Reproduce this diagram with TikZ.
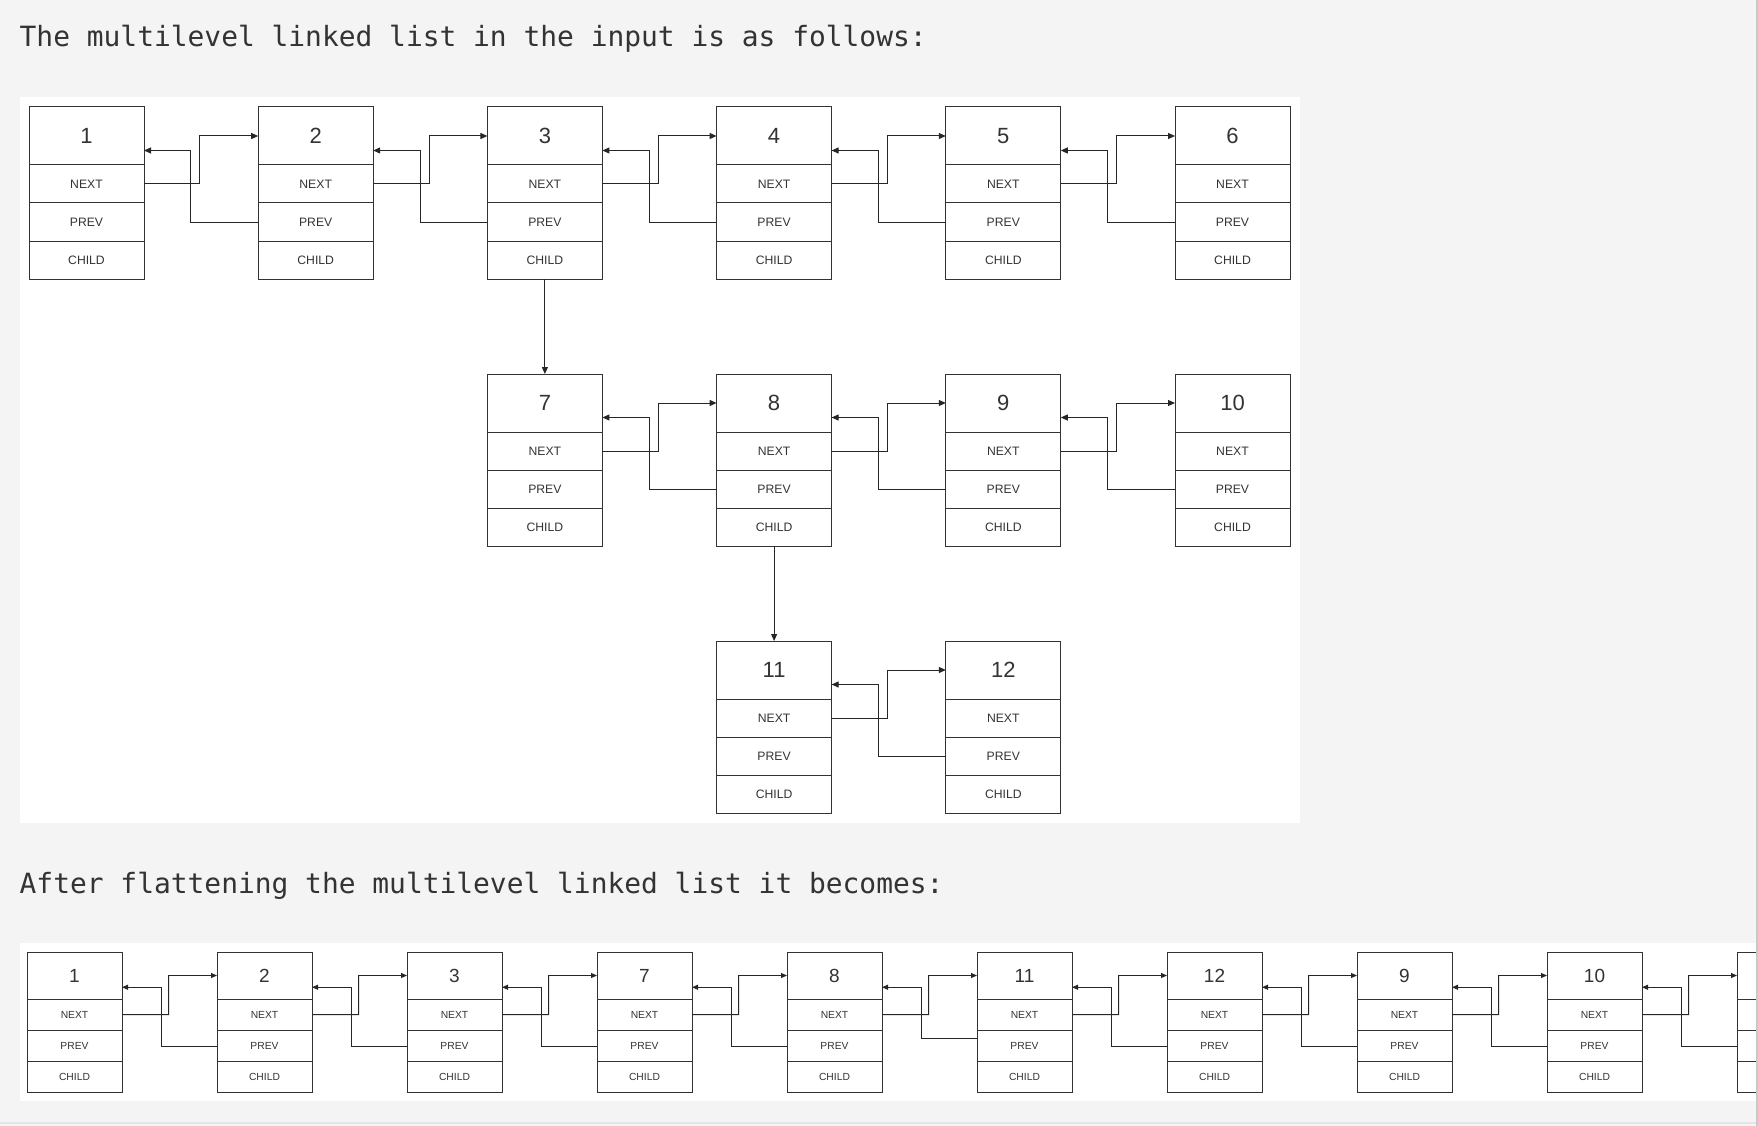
\documentclass[tikz,border=0pt]{standalone}
\usepackage{fontspec}
\setmainfont{Liberation Sans}
\newfontfamily\codefont{DejaVu Sans Mono}
\usetikzlibrary{arrows.meta,calc,positioning}
\definecolor{pagegray}{HTML}{F4F4F4}
\definecolor{ink}{HTML}{333333}
\definecolor{edgegray}{HTML}{C8C8C8}
\tikzset{
	box/.style={draw=ink, line width=1pt, inner sep=0pt, outer sep=0pt, text=ink, fill=white},
	bighead/.style={box, minimum width=115pt, minimum height=58pt, font=\fontsize{22}{25}\selectfont},
	bigrow/.style={box, minimum width=115pt, minimum height=38pt, font=\fontsize{12.2}{14}\selectfont},
	smallhead/.style={box, minimum width=95pt, minimum height=47pt, font=\fontsize{19}{22}\selectfont},
	smallrow/.style={box, minimum width=95pt, minimum height=31.3pt, font=\fontsize{10.3}{12}\selectfont},
	biglink/.style={draw=black!85, line width=1pt, -{Triangle[length=7pt,width=6pt]}},
	smalllink/.style={draw=black!85, line width=0.9pt, -{Triangle[length=6pt,width=5pt]}},
	heading/.style={anchor=base west, inner sep=0pt, text=ink, font=\codefont\fontsize{27.9}{33}\selectfont},
}
% one list cell: name, x, y, value, size (big/small)
\def\listcell#1#2#3#4#5{%
	\node[#5head, anchor=north west] (#1-h) at (#2,#3) {#4};
	\node[#5row, below=0pt of #1-h] (#1-n) {NEXT};
	\node[#5row, below=0pt of #1-n] (#1-p) {PREV};
	\node[#5row, below=0pt of #1-p] (#1-c) {CHILD};
}

\begin{document}
\begin{tikzpicture}[x=1pt, y=-1pt]
		%%%%% START %%%%%
		\path[use as bounding box, clip] (0,0) rectangle (1758,1126);
		\fill[pagegray] (0,0) rectangle (1758,1126);
		\fill[white] (20,97.5) rectangle (1300,823);
		\fill[white] (20,943) rectangle (1758,1101);
		
		\node[heading] (intro) at (19.5,46.7) {The multilevel linked list in the input is as follows:};
		\node[heading] (outro) at (19.5,893.3) {After flattening the multilevel linked list it becomes:};
		
		% input list
		\foreach \v [count=\i from 0] in {1,...,6}
			\listcell{n\v}{29+229.2*\i}{107}{\v}{big};
		\foreach \v/\i in {7/2,8/3,9/4,10/5}
			\listcell{n\v}{29+229.2*\i}{374}{\v}{big};
		\foreach \v/\i in {11/3,12/4}
			\listcell{n\v}{29+229.2*\i}{641}{\v}{big};
		
		\foreach \a/\b in {n1/n2,n2/n3,n3/n4,n4/n5,n5/n6,n7/n8,n8/n9,n9/n10,n11/n12}{
			\draw[biglink] (\a-n.east) -- ($(\a-n.east)!0.49!(\b-n.west)$) |- (\b-h.west);
			\draw[biglink] (\b-p.west) -| ($(\b-h.south west)!0.59!(\a-h.south east)$) |- ($(\a-h.east)!0.5!(\a-h.south east)$);
		}
		\draw[biglink] (n3-c.south) -- (n7-h.north);
		\draw[biglink] (n8-c.south) -- (n11-h.north);
		
		% flattened list
		\foreach \v [count=\i from 0] in {1,2,3,7,8,11,12,9,10}
			\listcell{f\v}{27+190*\i}{952}{\v}{small};
		\node[smallhead, anchor=north west] (fx-h) at (1737,952) {};
		\node[smallrow, below=0pt of fx-h] (fx-n) {};
		\node[smallrow, below=0pt of fx-n] (fx-p) {};
		\node[smallrow, below=0pt of fx-p] (fx-c) {};
		
		\foreach \a/\b/\r in {f1/f2/0.5,f2/f3/0.5,f3/f7/0.5,f7/f8/0.5,f8/f11/0.25,f11/f12/0.5,f12/f9/0.5,f9/f10/0.5,f10/fx/0.5}{
			\draw[smalllink] (\a-n.east) -- ($(\a-n.east)!0.49!(\b-n.west)$) |- (\b-h.west);
			\draw[smalllink] ($(\b-p.north west)!\r!(\b-p.south west)$) -| ($(\b-h.south west)!0.58!(\a-h.south east)$) |- ($(\a-h.east)!0.5!(\a-h.south east)$);
		}
		
		\fill[black!10] (0,1122) rectangle (1758,1124);
		\fill[edgegray] (1756,0) rectangle (1758,1126);
		%%%%% END %%%%%
\end{tikzpicture}
\end{document}
